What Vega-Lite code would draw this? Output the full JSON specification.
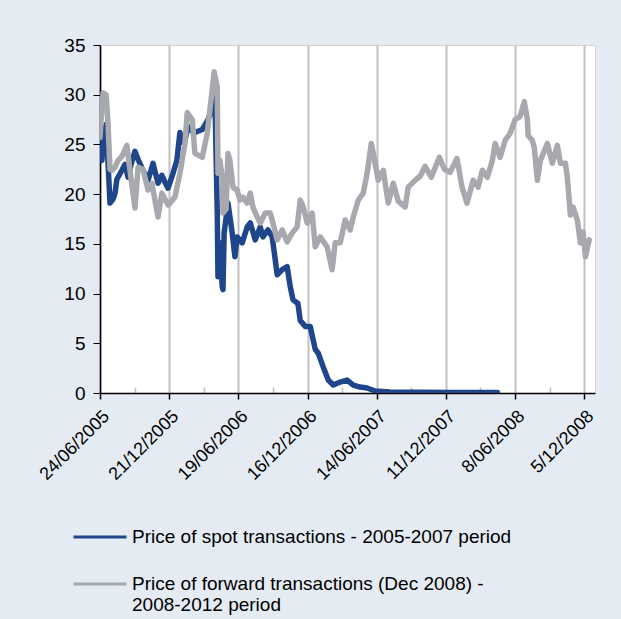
{
  "$schema": "https://vega.github.io/schema/vega-lite/v6.json",
  "width": 495,
  "height": 348,
  "autosize": {"type": "none"},
  "padding": {"left": 100, "top": 45, "right": 26, "bottom": 226},
  "background": "#E5EBF3",
  "config": {
    "view": {"fill": "white", "stroke": "#D4D4D4", "strokeWidth": 1},
    "font": "Liberation Sans"
  },
  "data": {
    "values": [
      {"date": "2005-06-24", "price": 23.6, "series": "Price of spot transactions - 2005-2007 period"},
      {"date": "2005-06-29", "price": 23.4, "series": "Price of spot transactions - 2005-2007 period"},
      {"date": "2005-07-02", "price": 25.4, "series": "Price of spot transactions - 2005-2007 period"},
      {"date": "2005-07-10", "price": 27.0, "series": "Price of spot transactions - 2005-2007 period"},
      {"date": "2005-07-20", "price": 19.1, "series": "Price of spot transactions - 2005-2007 period"},
      {"date": "2005-07-28", "price": 19.5, "series": "Price of spot transactions - 2005-2007 period"},
      {"date": "2005-08-02", "price": 20.1, "series": "Price of spot transactions - 2005-2007 period"},
      {"date": "2005-08-07", "price": 21.5, "series": "Price of spot transactions - 2005-2007 period"},
      {"date": "2005-08-20", "price": 22.4, "series": "Price of spot transactions - 2005-2007 period"},
      {"date": "2005-08-28", "price": 23.0, "series": "Price of spot transactions - 2005-2007 period"},
      {"date": "2005-09-05", "price": 21.7, "series": "Price of spot transactions - 2005-2007 period"},
      {"date": "2005-09-13", "price": 23.0, "series": "Price of spot transactions - 2005-2007 period"},
      {"date": "2005-09-23", "price": 24.3, "series": "Price of spot transactions - 2005-2007 period"},
      {"date": "2005-10-01", "price": 23.5, "series": "Price of spot transactions - 2005-2007 period"},
      {"date": "2005-10-14", "price": 22.4, "series": "Price of spot transactions - 2005-2007 period"},
      {"date": "2005-10-27", "price": 21.4, "series": "Price of spot transactions - 2005-2007 period"},
      {"date": "2005-11-09", "price": 23.1, "series": "Price of spot transactions - 2005-2007 period"},
      {"date": "2005-11-22", "price": 21.1, "series": "Price of spot transactions - 2005-2007 period"},
      {"date": "2005-12-02", "price": 21.9, "series": "Price of spot transactions - 2005-2007 period"},
      {"date": "2005-12-10", "price": 21.2, "series": "Price of spot transactions - 2005-2007 period"},
      {"date": "2005-12-18", "price": 20.6, "series": "Price of spot transactions - 2005-2007 period"},
      {"date": "2005-12-31", "price": 22.1, "series": "Price of spot transactions - 2005-2007 period"},
      {"date": "2006-01-10", "price": 23.4, "series": "Price of spot transactions - 2005-2007 period"},
      {"date": "2006-01-18", "price": 26.2, "series": "Price of spot transactions - 2005-2007 period"},
      {"date": "2006-01-26", "price": 25.2, "series": "Price of spot transactions - 2005-2007 period"},
      {"date": "2006-01-31", "price": 25.4, "series": "Price of spot transactions - 2005-2007 period"},
      {"date": "2006-02-08", "price": 26.8, "series": "Price of spot transactions - 2005-2007 period"},
      {"date": "2006-02-19", "price": 26.3, "series": "Price of spot transactions - 2005-2007 period"},
      {"date": "2006-02-26", "price": 26.2, "series": "Price of spot transactions - 2005-2007 period"},
      {"date": "2006-03-17", "price": 26.5, "series": "Price of spot transactions - 2005-2007 period"},
      {"date": "2006-04-01", "price": 27.5, "series": "Price of spot transactions - 2005-2007 period"},
      {"date": "2006-04-12", "price": 28.5, "series": "Price of spot transactions - 2005-2007 period"},
      {"date": "2006-04-19", "price": 29.8, "series": "Price of spot transactions - 2005-2007 period"},
      {"date": "2006-04-25", "price": 18.4, "series": "Price of spot transactions - 2005-2007 period"},
      {"date": "2006-04-27", "price": 11.7, "series": "Price of spot transactions - 2005-2007 period"},
      {"date": "2006-05-02", "price": 15.1, "series": "Price of spot transactions - 2005-2007 period"},
      {"date": "2006-05-08", "price": 10.7, "series": "Price of spot transactions - 2005-2007 period"},
      {"date": "2006-05-10", "price": 10.4, "series": "Price of spot transactions - 2005-2007 period"},
      {"date": "2006-05-13", "price": 16.1, "series": "Price of spot transactions - 2005-2007 period"},
      {"date": "2006-05-23", "price": 19.1, "series": "Price of spot transactions - 2005-2007 period"},
      {"date": "2006-06-03", "price": 16.1, "series": "Price of spot transactions - 2005-2007 period"},
      {"date": "2006-06-10", "price": 13.7, "series": "Price of spot transactions - 2005-2007 period"},
      {"date": "2006-06-16", "price": 15.7, "series": "Price of spot transactions - 2005-2007 period"},
      {"date": "2006-06-29", "price": 15.1, "series": "Price of spot transactions - 2005-2007 period"},
      {"date": "2006-07-12", "price": 16.7, "series": "Price of spot transactions - 2005-2007 period"},
      {"date": "2006-07-20", "price": 17.1, "series": "Price of spot transactions - 2005-2007 period"},
      {"date": "2006-08-02", "price": 15.4, "series": "Price of spot transactions - 2005-2007 period"},
      {"date": "2006-08-15", "price": 16.7, "series": "Price of spot transactions - 2005-2007 period"},
      {"date": "2006-08-22", "price": 15.7, "series": "Price of spot transactions - 2005-2007 period"},
      {"date": "2006-09-04", "price": 16.4, "series": "Price of spot transactions - 2005-2007 period"},
      {"date": "2006-09-15", "price": 15.7, "series": "Price of spot transactions - 2005-2007 period"},
      {"date": "2006-09-23", "price": 13.4, "series": "Price of spot transactions - 2005-2007 period"},
      {"date": "2006-09-28", "price": 11.9, "series": "Price of spot transactions - 2005-2007 period"},
      {"date": "2006-10-11", "price": 12.4, "series": "Price of spot transactions - 2005-2007 period"},
      {"date": "2006-10-24", "price": 12.7, "series": "Price of spot transactions - 2005-2007 period"},
      {"date": "2006-11-01", "price": 10.7, "series": "Price of spot transactions - 2005-2007 period"},
      {"date": "2006-11-08", "price": 9.4, "series": "Price of spot transactions - 2005-2007 period"},
      {"date": "2006-11-21", "price": 9.0, "series": "Price of spot transactions - 2005-2007 period"},
      {"date": "2006-11-27", "price": 7.3, "series": "Price of spot transactions - 2005-2007 period"},
      {"date": "2006-12-10", "price": 6.7, "series": "Price of spot transactions - 2005-2007 period"},
      {"date": "2006-12-23", "price": 6.7, "series": "Price of spot transactions - 2005-2007 period"},
      {"date": "2007-01-05", "price": 4.4, "series": "Price of spot transactions - 2005-2007 period"},
      {"date": "2007-01-13", "price": 4.0, "series": "Price of spot transactions - 2005-2007 period"},
      {"date": "2007-01-26", "price": 2.6, "series": "Price of spot transactions - 2005-2007 period"},
      {"date": "2007-02-08", "price": 1.3, "series": "Price of spot transactions - 2005-2007 period"},
      {"date": "2007-02-21", "price": 0.8, "series": "Price of spot transactions - 2005-2007 period"},
      {"date": "2007-03-11", "price": 1.1, "series": "Price of spot transactions - 2005-2007 period"},
      {"date": "2007-03-29", "price": 1.3, "series": "Price of spot transactions - 2005-2007 period"},
      {"date": "2007-04-14", "price": 0.8, "series": "Price of spot transactions - 2005-2007 period"},
      {"date": "2007-05-02", "price": 0.6, "series": "Price of spot transactions - 2005-2007 period"},
      {"date": "2007-05-20", "price": 0.5, "series": "Price of spot transactions - 2005-2007 period"},
      {"date": "2007-06-10", "price": 0.2, "series": "Price of spot transactions - 2005-2007 period"},
      {"date": "2007-07-19", "price": 0.1, "series": "Price of spot transactions - 2005-2007 period"},
      {"date": "2007-10-05", "price": 0.08, "series": "Price of spot transactions - 2005-2007 period"},
      {"date": "2007-12-22", "price": 0.06, "series": "Price of spot transactions - 2005-2007 period"},
      {"date": "2008-03-09", "price": 0.05, "series": "Price of spot transactions - 2005-2007 period"},
      {"date": "2008-04-23", "price": 0.05, "series": "Price of spot transactions - 2005-2007 period"},
      {"date": "2005-06-24", "price": 25.7, "series": "Price of forward transactions (Dec 2008) - 2008-2012 period"},
      {"date": "2005-06-27", "price": 27.5, "series": "Price of forward transactions (Dec 2008) - 2008-2012 period"},
      {"date": "2005-07-02", "price": 30.2, "series": "Price of forward transactions (Dec 2008) - 2008-2012 period"},
      {"date": "2005-07-10", "price": 30.0, "series": "Price of forward transactions (Dec 2008) - 2008-2012 period"},
      {"date": "2005-07-15", "price": 27.0, "series": "Price of forward transactions (Dec 2008) - 2008-2012 period"},
      {"date": "2005-07-20", "price": 22.5, "series": "Price of forward transactions (Dec 2008) - 2008-2012 period"},
      {"date": "2005-07-25", "price": 22.4, "series": "Price of forward transactions (Dec 2008) - 2008-2012 period"},
      {"date": "2005-08-02", "price": 22.7, "series": "Price of forward transactions (Dec 2008) - 2008-2012 period"},
      {"date": "2005-08-10", "price": 23.4, "series": "Price of forward transactions (Dec 2008) - 2008-2012 period"},
      {"date": "2005-08-20", "price": 23.8, "series": "Price of forward transactions (Dec 2008) - 2008-2012 period"},
      {"date": "2005-09-02", "price": 24.9, "series": "Price of forward transactions (Dec 2008) - 2008-2012 period"},
      {"date": "2005-09-10", "price": 22.4, "series": "Price of forward transactions (Dec 2008) - 2008-2012 period"},
      {"date": "2005-09-23", "price": 18.6, "series": "Price of forward transactions (Dec 2008) - 2008-2012 period"},
      {"date": "2005-10-01", "price": 22.7, "series": "Price of forward transactions (Dec 2008) - 2008-2012 period"},
      {"date": "2005-10-14", "price": 22.5, "series": "Price of forward transactions (Dec 2008) - 2008-2012 period"},
      {"date": "2005-10-27", "price": 20.4, "series": "Price of forward transactions (Dec 2008) - 2008-2012 period"},
      {"date": "2005-11-06", "price": 21.1, "series": "Price of forward transactions (Dec 2008) - 2008-2012 period"},
      {"date": "2005-11-22", "price": 17.7, "series": "Price of forward transactions (Dec 2008) - 2008-2012 period"},
      {"date": "2005-12-02", "price": 20.1, "series": "Price of forward transactions (Dec 2008) - 2008-2012 period"},
      {"date": "2005-12-18", "price": 18.9, "series": "Price of forward transactions (Dec 2008) - 2008-2012 period"},
      {"date": "2006-01-05", "price": 19.7, "series": "Price of forward transactions (Dec 2008) - 2008-2012 period"},
      {"date": "2006-01-18", "price": 22.1, "series": "Price of forward transactions (Dec 2008) - 2008-2012 period"},
      {"date": "2006-01-31", "price": 25.1, "series": "Price of forward transactions (Dec 2008) - 2008-2012 period"},
      {"date": "2006-02-06", "price": 28.2, "series": "Price of forward transactions (Dec 2008) - 2008-2012 period"},
      {"date": "2006-02-19", "price": 27.5, "series": "Price of forward transactions (Dec 2008) - 2008-2012 period"},
      {"date": "2006-02-26", "price": 24.1, "series": "Price of forward transactions (Dec 2008) - 2008-2012 period"},
      {"date": "2006-03-17", "price": 23.7, "series": "Price of forward transactions (Dec 2008) - 2008-2012 period"},
      {"date": "2006-03-30", "price": 26.1, "series": "Price of forward transactions (Dec 2008) - 2008-2012 period"},
      {"date": "2006-04-06", "price": 28.5, "series": "Price of forward transactions (Dec 2008) - 2008-2012 period"},
      {"date": "2006-04-12", "price": 30.5, "series": "Price of forward transactions (Dec 2008) - 2008-2012 period"},
      {"date": "2006-04-17", "price": 32.3, "series": "Price of forward transactions (Dec 2008) - 2008-2012 period"},
      {"date": "2006-04-25", "price": 30.8, "series": "Price of forward transactions (Dec 2008) - 2008-2012 period"},
      {"date": "2006-04-27", "price": 22.1, "series": "Price of forward transactions (Dec 2008) - 2008-2012 period"},
      {"date": "2006-05-02", "price": 23.4, "series": "Price of forward transactions (Dec 2008) - 2008-2012 period"},
      {"date": "2006-05-08", "price": 21.7, "series": "Price of forward transactions (Dec 2008) - 2008-2012 period"},
      {"date": "2006-05-10", "price": 18.1, "series": "Price of forward transactions (Dec 2008) - 2008-2012 period"},
      {"date": "2006-05-18", "price": 18.5, "series": "Price of forward transactions (Dec 2008) - 2008-2012 period"},
      {"date": "2006-05-23", "price": 24.1, "series": "Price of forward transactions (Dec 2008) - 2008-2012 period"},
      {"date": "2006-05-28", "price": 23.4, "series": "Price of forward transactions (Dec 2008) - 2008-2012 period"},
      {"date": "2006-06-05", "price": 20.7, "series": "Price of forward transactions (Dec 2008) - 2008-2012 period"},
      {"date": "2006-06-16", "price": 20.4, "series": "Price of forward transactions (Dec 2008) - 2008-2012 period"},
      {"date": "2006-06-23", "price": 19.4, "series": "Price of forward transactions (Dec 2008) - 2008-2012 period"},
      {"date": "2006-07-01", "price": 19.7, "series": "Price of forward transactions (Dec 2008) - 2008-2012 period"},
      {"date": "2006-07-12", "price": 19.1, "series": "Price of forward transactions (Dec 2008) - 2008-2012 period"},
      {"date": "2006-07-20", "price": 20.1, "series": "Price of forward transactions (Dec 2008) - 2008-2012 period"},
      {"date": "2006-07-27", "price": 18.7, "series": "Price of forward transactions (Dec 2008) - 2008-2012 period"},
      {"date": "2006-08-07", "price": 17.7, "series": "Price of forward transactions (Dec 2008) - 2008-2012 period"},
      {"date": "2006-08-15", "price": 17.1, "series": "Price of forward transactions (Dec 2008) - 2008-2012 period"},
      {"date": "2006-08-28", "price": 18.1, "series": "Price of forward transactions (Dec 2008) - 2008-2012 period"},
      {"date": "2006-09-10", "price": 18.1, "series": "Price of forward transactions (Dec 2008) - 2008-2012 period"},
      {"date": "2006-09-17", "price": 17.1, "series": "Price of forward transactions (Dec 2008) - 2008-2012 period"},
      {"date": "2006-09-28", "price": 15.4, "series": "Price of forward transactions (Dec 2008) - 2008-2012 period"},
      {"date": "2006-10-11", "price": 16.4, "series": "Price of forward transactions (Dec 2008) - 2008-2012 period"},
      {"date": "2006-10-24", "price": 15.2, "series": "Price of forward transactions (Dec 2008) - 2008-2012 period"},
      {"date": "2006-11-06", "price": 16.1, "series": "Price of forward transactions (Dec 2008) - 2008-2012 period"},
      {"date": "2006-11-19", "price": 16.7, "series": "Price of forward transactions (Dec 2008) - 2008-2012 period"},
      {"date": "2006-11-27", "price": 19.4, "series": "Price of forward transactions (Dec 2008) - 2008-2012 period"},
      {"date": "2006-12-05", "price": 18.7, "series": "Price of forward transactions (Dec 2008) - 2008-2012 period"},
      {"date": "2006-12-15", "price": 17.1, "series": "Price of forward transactions (Dec 2008) - 2008-2012 period"},
      {"date": "2006-12-28", "price": 18.1, "series": "Price of forward transactions (Dec 2008) - 2008-2012 period"},
      {"date": "2007-01-05", "price": 14.7, "series": "Price of forward transactions (Dec 2008) - 2008-2012 period"},
      {"date": "2007-01-18", "price": 15.7, "series": "Price of forward transactions (Dec 2008) - 2008-2012 period"},
      {"date": "2007-02-05", "price": 14.7, "series": "Price of forward transactions (Dec 2008) - 2008-2012 period"},
      {"date": "2007-02-18", "price": 12.4, "series": "Price of forward transactions (Dec 2008) - 2008-2012 period"},
      {"date": "2007-02-26", "price": 15.1, "series": "Price of forward transactions (Dec 2008) - 2008-2012 period"},
      {"date": "2007-03-11", "price": 15.1, "series": "Price of forward transactions (Dec 2008) - 2008-2012 period"},
      {"date": "2007-03-24", "price": 17.4, "series": "Price of forward transactions (Dec 2008) - 2008-2012 period"},
      {"date": "2007-04-06", "price": 16.4, "series": "Price of forward transactions (Dec 2008) - 2008-2012 period"},
      {"date": "2007-04-14", "price": 17.7, "series": "Price of forward transactions (Dec 2008) - 2008-2012 period"},
      {"date": "2007-04-27", "price": 19.4, "series": "Price of forward transactions (Dec 2008) - 2008-2012 period"},
      {"date": "2007-05-10", "price": 20.1, "series": "Price of forward transactions (Dec 2008) - 2008-2012 period"},
      {"date": "2007-05-20", "price": 22.1, "series": "Price of forward transactions (Dec 2008) - 2008-2012 period"},
      {"date": "2007-05-31", "price": 25.1, "series": "Price of forward transactions (Dec 2008) - 2008-2012 period"},
      {"date": "2007-06-07", "price": 23.7, "series": "Price of forward transactions (Dec 2008) - 2008-2012 period"},
      {"date": "2007-06-18", "price": 21.4, "series": "Price of forward transactions (Dec 2008) - 2008-2012 period"},
      {"date": "2007-07-01", "price": 22.4, "series": "Price of forward transactions (Dec 2008) - 2008-2012 period"},
      {"date": "2007-07-14", "price": 19.1, "series": "Price of forward transactions (Dec 2008) - 2008-2012 period"},
      {"date": "2007-07-27", "price": 21.1, "series": "Price of forward transactions (Dec 2008) - 2008-2012 period"},
      {"date": "2007-08-09", "price": 19.3, "series": "Price of forward transactions (Dec 2008) - 2008-2012 period"},
      {"date": "2007-08-27", "price": 18.7, "series": "Price of forward transactions (Dec 2008) - 2008-2012 period"},
      {"date": "2007-09-04", "price": 20.7, "series": "Price of forward transactions (Dec 2008) - 2008-2012 period"},
      {"date": "2007-09-22", "price": 21.4, "series": "Price of forward transactions (Dec 2008) - 2008-2012 period"},
      {"date": "2007-10-05", "price": 21.8, "series": "Price of forward transactions (Dec 2008) - 2008-2012 period"},
      {"date": "2007-10-18", "price": 22.8, "series": "Price of forward transactions (Dec 2008) - 2008-2012 period"},
      {"date": "2007-11-03", "price": 21.7, "series": "Price of forward transactions (Dec 2008) - 2008-2012 period"},
      {"date": "2007-11-24", "price": 23.7, "series": "Price of forward transactions (Dec 2008) - 2008-2012 period"},
      {"date": "2007-12-07", "price": 22.5, "series": "Price of forward transactions (Dec 2008) - 2008-2012 period"},
      {"date": "2007-12-22", "price": 22.2, "series": "Price of forward transactions (Dec 2008) - 2008-2012 period"},
      {"date": "2008-01-09", "price": 23.6, "series": "Price of forward transactions (Dec 2008) - 2008-2012 period"},
      {"date": "2008-01-22", "price": 20.7, "series": "Price of forward transactions (Dec 2008) - 2008-2012 period"},
      {"date": "2008-02-04", "price": 19.1, "series": "Price of forward transactions (Dec 2008) - 2008-2012 period"},
      {"date": "2008-02-20", "price": 21.4, "series": "Price of forward transactions (Dec 2008) - 2008-2012 period"},
      {"date": "2008-03-04", "price": 20.7, "series": "Price of forward transactions (Dec 2008) - 2008-2012 period"},
      {"date": "2008-03-15", "price": 22.4, "series": "Price of forward transactions (Dec 2008) - 2008-2012 period"},
      {"date": "2008-03-28", "price": 21.7, "series": "Price of forward transactions (Dec 2008) - 2008-2012 period"},
      {"date": "2008-04-10", "price": 23.4, "series": "Price of forward transactions (Dec 2008) - 2008-2012 period"},
      {"date": "2008-04-17", "price": 25.1, "series": "Price of forward transactions (Dec 2008) - 2008-2012 period"},
      {"date": "2008-04-30", "price": 23.7, "series": "Price of forward transactions (Dec 2008) - 2008-2012 period"},
      {"date": "2008-05-13", "price": 25.4, "series": "Price of forward transactions (Dec 2008) - 2008-2012 period"},
      {"date": "2008-05-26", "price": 26.1, "series": "Price of forward transactions (Dec 2008) - 2008-2012 period"},
      {"date": "2008-06-08", "price": 27.5, "series": "Price of forward transactions (Dec 2008) - 2008-2012 period"},
      {"date": "2008-06-21", "price": 27.8, "series": "Price of forward transactions (Dec 2008) - 2008-2012 period"},
      {"date": "2008-07-02", "price": 29.3, "series": "Price of forward transactions (Dec 2008) - 2008-2012 period"},
      {"date": "2008-07-10", "price": 27.5, "series": "Price of forward transactions (Dec 2008) - 2008-2012 period"},
      {"date": "2008-07-12", "price": 25.9, "series": "Price of forward transactions (Dec 2008) - 2008-2012 period"},
      {"date": "2008-07-23", "price": 25.4, "series": "Price of forward transactions (Dec 2008) - 2008-2012 period"},
      {"date": "2008-07-28", "price": 24.7, "series": "Price of forward transactions (Dec 2008) - 2008-2012 period"},
      {"date": "2008-08-05", "price": 21.4, "series": "Price of forward transactions (Dec 2008) - 2008-2012 period"},
      {"date": "2008-08-13", "price": 23.4, "series": "Price of forward transactions (Dec 2008) - 2008-2012 period"},
      {"date": "2008-08-31", "price": 25.1, "series": "Price of forward transactions (Dec 2008) - 2008-2012 period"},
      {"date": "2008-09-13", "price": 23.1, "series": "Price of forward transactions (Dec 2008) - 2008-2012 period"},
      {"date": "2008-09-26", "price": 24.9, "series": "Price of forward transactions (Dec 2008) - 2008-2012 period"},
      {"date": "2008-10-04", "price": 23.1, "series": "Price of forward transactions (Dec 2008) - 2008-2012 period"},
      {"date": "2008-10-17", "price": 23.1, "series": "Price of forward transactions (Dec 2008) - 2008-2012 period"},
      {"date": "2008-10-22", "price": 21.7, "series": "Price of forward transactions (Dec 2008) - 2008-2012 period"},
      {"date": "2008-10-30", "price": 17.9, "series": "Price of forward transactions (Dec 2008) - 2008-2012 period"},
      {"date": "2008-11-06", "price": 18.7, "series": "Price of forward transactions (Dec 2008) - 2008-2012 period"},
      {"date": "2008-11-17", "price": 17.4, "series": "Price of forward transactions (Dec 2008) - 2008-2012 period"},
      {"date": "2008-11-25", "price": 15.1, "series": "Price of forward transactions (Dec 2008) - 2008-2012 period"},
      {"date": "2008-12-02", "price": 16.2, "series": "Price of forward transactions (Dec 2008) - 2008-2012 period"},
      {"date": "2008-12-08", "price": 13.7, "series": "Price of forward transactions (Dec 2008) - 2008-2012 period"},
      {"date": "2008-12-18", "price": 15.4, "series": "Price of forward transactions (Dec 2008) - 2008-2012 period"}
    ]
  },
  "mark": {"type": "line", "strokeWidth": 5.5, "strokeJoin": "round", "strokeCap": "round", "clip": true},
  "encoding": {
    "x": {
      "field": "date",
      "type": "temporal",
      "title": null,
      "scale": {
        "type": "utc",
        "domain": [
          {"year": 2005, "month": 6, "date": 24, "utc": true},
          {"year": 2009, "month": 1, "date": 2, "utc": true}
        ]
      },
      "axis": {
        "values": [
          {"year": 2005, "month": 6, "date": 24, "utc": true},
          {"year": 2005, "month": 9, "date": 22, "utc": true},
          {"year": 2005, "month": 12, "date": 21, "utc": true},
          {"year": 2006, "month": 3, "date": 21, "utc": true},
          {"year": 2006, "month": 6, "date": 19, "utc": true},
          {"year": 2006, "month": 9, "date": 17, "utc": true},
          {"year": 2006, "month": 12, "date": 16, "utc": true},
          {"year": 2007, "month": 3, "date": 16, "utc": true},
          {"year": 2007, "month": 6, "date": 14, "utc": true},
          {"year": 2007, "month": 9, "date": 12, "utc": true},
          {"year": 2007, "month": 12, "date": 11, "utc": true},
          {"year": 2008, "month": 3, "date": 10, "utc": true},
          {"year": 2008, "month": 6, "date": 8, "utc": true},
          {"year": 2008, "month": 9, "date": 6, "utc": true},
          {"year": 2008, "month": 12, "date": 5, "utc": true}
        ],
        "labelExpr": "utcmonth(datum.value) % 6 == 5 ? utcFormat(datum.value, '%-d/%m/%Y') : ''",
        "labelAngle": -45,
        "labelFontSize": 18,
        "labelColor": "black",
        "labelPadding": 8,
        "labelOverlap": false,
        "labelFlush": false,
        "domainColor": "black",
        "domainWidth": 1.5,
        "grid": true,
        "gridColor": "#BFBFBF",
        "gridWidth": 2,
        "gridOpacity": {"condition": {"test": "utcmonth(datum.value) % 6 == 5", "value": 1}, "value": 0},
        "tickColor": {"condition": {"test": "utcmonth(datum.value) % 6 == 5", "value": "black"}, "value": "#BFBFBF"},
        "tickSize": {"condition": {"test": "utcmonth(datum.value) % 6 == 5", "value": 6}, "value": -6},
        "tickWidth": 1.5
      }
    },
    "y": {
      "field": "price",
      "type": "quantitative",
      "title": null,
      "scale": {"domain": [0, 35], "nice": false},
      "axis": {
        "values": [0, 5, 10, 15, 20, 25, 30, 35],
        "grid": false,
        "labelFontSize": 19,
        "labelColor": "black",
        "labelPadding": 8,
        "tickSize": 7,
        "tickColor": "black",
        "domainColor": "black",
        "domainWidth": 1.5
      }
    },
    "color": {
      "field": "series",
      "type": "nominal",
      "sort": null,
      "title": null,
      "scale": {
        "domain": ["Price of spot transactions - 2005-2007 period", "Price of forward transactions (Dec 2008) - 2008-2012 period"],
        "range": ["#1F468B", "#A8A9AE"]
      },
      "legend": {
        "orient": "none",
        "legendX": -28,
        "legendY": 464,
        "direction": "vertical",
        "symbolType": "stroke",
        "symbolSize": 2809,
        "symbolStrokeWidth": 3,
        "labelFontSize": 19,
        "labelColor": "black",
        "labelLimit": 600,
        "labelOffset": 4,
        "rowPadding": 9,
        "labelExpr": "indexof(datum.label, '(Dec') > 0 ? ['Price of forward transactions (Dec 2008) -', '2008-2012 period'] : datum.label"
      }
    }
  }
}
